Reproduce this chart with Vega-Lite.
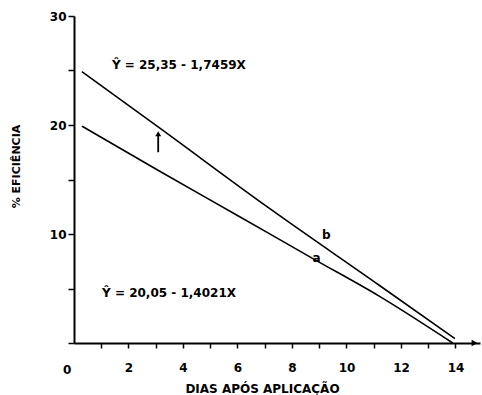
{
  "$schema": "https://vega.github.io/schema/vega-lite/v6.json",
  "width": 406,
  "height": 327,
  "autosize": "none",
  "padding": {"left": 74, "top": 16, "right": 2, "bottom": 52},
  "background": "white",
  "config": {
    "view": {"stroke": null},
    "font": "DejaVu Sans",
    "axis": {"grid": false, "domainColor": "black", "domainWidth": 2, "tickColor": "black", "tickWidth": 1.5, "labelColor": "black", "titleColor": "black", "labelFont": "DejaVu Sans", "titleFont": "DejaVu Sans", "labelFontWeight": "bold", "titleFontWeight": "bold", "labelOverlap": false}
  },
  "datasets": {
    "lines": [
      {"serie": "b", "x": 0.29, "y": 24.9},
      {"serie": "b", "x": 3.1, "y": 19.8},
      {"serie": "b", "x": 7.2, "y": 12.3},
      {"serie": "b", "x": 11.2, "y": 5.3},
      {"serie": "b", "x": 13.98, "y": 0.4},
      {"serie": "a", "x": 0.29, "y": 19.9},
      {"serie": "a", "x": 3.05, "y": 15.9},
      {"serie": "a", "x": 6.0, "y": 11.7},
      {"serie": "a", "x": 8.8, "y": 7.7},
      {"serie": "a", "x": 11.2, "y": 4.3},
      {"serie": "a", "x": 13.9, "y": 0.0}
    ],
    "labels": [
      {"x": 1.39, "y": 25.5, "t": "Ŷ = 25,35 - 1,7459X"},
      {"x": 1.03, "y": 4.6, "t": "Ŷ = 20,05 - 1,4021X"},
      {"x": 9.1, "y": 9.9, "t": "b"},
      {"x": 8.75, "y": 7.8, "t": "a"},
      {"x": -0.4, "y": -2.45, "t": "0"}
    ],
    "arrow": [
      {"x": 3.09, "y": 17.5, "y2": 19.0}
    ],
    "arrowhead": [
      {"x": 3.09, "y": 19.2}
    ],
    "axisarrow": [
      {"x": 14.7, "y": 0}
    ]
  },
  "resolve": {"axis": {"x": "independent"}},
  "layer": [
    {
      "data": {"name": "lines"},
      "mark": {"type": "line", "color": "black", "strokeWidth": 1.6, "interpolate": "monotone"},
      "encoding": {
        "x": {"field": "x", "type": "quantitative", "scale": {"domain": [0, 14.9], "nice": false, "zero": false},
          "axis": {"orient": "bottom", "values": [2,4,6,8,10,12,14], "labelOverlap": false, "labelFlush": false, "tickSize": 5, "labelPadding": 14, "labelFontSize": 12, "title": "DIAS APÓS APLICAÇÃO", "titleFontSize": 12, "titleX": 188, "titleY": 45, "titleBaseline": "middle", "titleAlign": "center"}},
        "y": {"field": "y", "type": "quantitative", "scale": {"domain": [0, 30], "nice": false},
          "axis": {"values": [0,5,10,15,20,25,30], "labelExpr": "datum.value % 10 == 0 && datum.value > 0 ? datum.label : ''", "tickSize": 6, "labelPadding": 2, "labelFontSize": 12, "title": "% EFICIÊNCIA", "titleFontSize": 11, "titleX": -58, "titleY": 150, "titleAngle": -90, "titleBaseline": "middle", "titleAlign": "center"}},
        "detail": {"field": "serie"}
      }
    },
    {
      "data": {"name": "labels"},
      "mark": {"type": "text", "align": "left", "baseline": "middle", "fontSize": 12, "fontWeight": "bold", "color": "black"},
      "encoding": {
        "x": {"field": "x", "type": "quantitative", "axis": {"orient": "bottom", "values": [1,3,5,7,9,11,13], "labels": false, "domain": false, "tickSize": 5, "title": null}},
        "y": {"field": "y", "type": "quantitative"},
        "text": {"field": "t"}
      }
    },
    {
      "data": {"name": "arrow"},
      "mark": {"type": "rule", "color": "black", "strokeWidth": 1.8},
      "encoding": {
        "x": {"field": "x", "type": "quantitative", "axis": null},
        "y": {"field": "y", "type": "quantitative"},
        "y2": {"field": "y2"}
      }
    },
    {
      "data": {"name": "arrowhead"},
      "mark": {"type": "point", "shape": "triangle-up", "filled": true, "color": "black", "size": 35, "opacity": 1},
      "encoding": {
        "x": {"field": "x", "type": "quantitative", "axis": null},
        "y": {"field": "y", "type": "quantitative"}
      }
    },
    {
      "data": {"name": "axisarrow"},
      "mark": {"type": "point", "shape": "triangle-right", "filled": true, "color": "black", "size": 45, "opacity": 1},
      "encoding": {
        "x": {"field": "x", "type": "quantitative", "axis": null},
        "y": {"field": "y", "type": "quantitative"}
      }
    }
  ]
}
